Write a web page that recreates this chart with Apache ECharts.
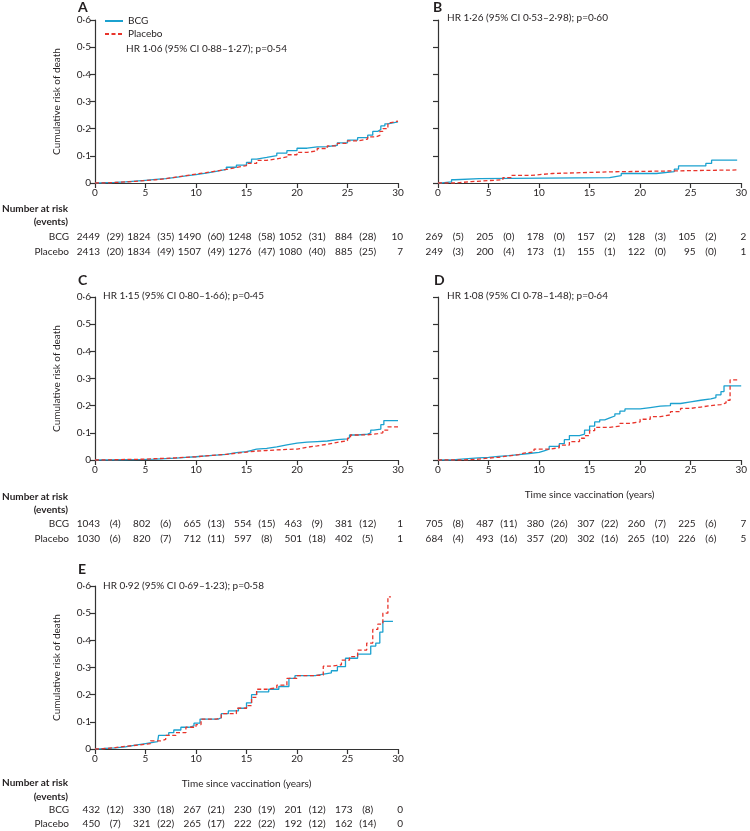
<!DOCTYPE html>
<html>
<head>
<meta charset="utf-8">
<script src="https://cdn.jsdelivr.net/npm/echarts@6/dist/echarts.min.js"></script>
<style>
html,body{margin:0;padding:0;background:#fff;}
#chart{width:750px;height:831px;}
</style>
</head>
<body>
<div id="chart"></div>
<script>
// ---- Data ----
const panelLetters = ['A','B','C','D','E'];
const hrTexts = [
  'HR 1·06 (95% CI 0·88–1·27); p=0·54',
  'HR 1·26 (95% CI 0·53–2·98); p=0·60',
  'HR 1·15 (95% CI 0·80–1·66); p=0·45',
  'HR 1·08 (95% CI 0·78–1·48); p=0·64',
  'HR 0·92 (95% CI 0·69–1·23); p=0·58'
];
const xTicks = [0,5,10,15,20,25,30];

const aBCG = [[0,0],[0.5,0.001],[1,0.002],[2,0.004],[3,0.007],[4,0.01],[5,0.013],[6,0.016],[7,0.021],[8,0.026],[9,0.031],[10,0.036],[11,0.043],[12,0.05],[13,0.058],[14,0.066],[15,0.076],[15.5,0.088],[16,0.094],[17,0.101],[18,0.11],[19,0.119],[20,0.128],[21,0.133],[22,0.134],[23,0.139],[24,0.148],[25,0.158],[26,0.167],[27,0.176],[27.5,0.19],[28,0.197],[28.3,0.21],[28.7,0.218],[29,0.225],[30,0.225]];
const aPlacebo = [[0,0],[1,0.002],[2,0.004],[3,0.006],[4,0.009],[5,0.012],[6,0.016],[7,0.022],[8,0.027],[9,0.033],[10,0.038],[11,0.044],[12,0.05],[13,0.057],[14,0.064],[15,0.072],[16,0.083],[17,0.089],[18,0.096],[19,0.104],[20,0.113],[21,0.118],[22,0.127],[23,0.137],[24,0.146],[25,0.155],[26,0.162],[27,0.17],[27.8,0.175],[28.2,0.19],[28.5,0.2],[29,0.222],[29.3,0.228],[30,0.228]];
const bBCG = [[0,0],[0.36,0.004],[1.34,0.012],[1.67,0.016],[4.07,0.02],[16.98,0.027],[18.13,0.035],[21.6,0.042],[23.38,0.051],[23.8,0.063],[26.5,0.072],[27.07,0.084],[29.6,0.084]];
const bPlacebo = [[0,0],[1.67,0.005],[3.3,0.012],[6.42,0.02],[7.24,0.028],[9.2,0.035],[11.34,0.041],[16.98,0.048],[29.6,0.048]];
const cBCG = [[0,0],[1,0.001],[3,0.002],[5,0.003],[6,0.005],[7,0.007],[8,0.01],[9,0.012],[10,0.015],[11,0.018],[12,0.021],[13,0.027],[14,0.031],[15,0.035],[15.5,0.04],[16,0.043],[17,0.048],[18,0.052],[18.5,0.056],[19,0.062],[20,0.066],[21,0.068],[22,0.07],[23,0.075],[24,0.078],[25,0.082],[25.2,0.092],[26,0.095],[27,0.1],[27.3,0.11],[27.6,0.114],[28.3,0.13],[28.6,0.145],[30,0.145]];
const cPlacebo = [[0,0],[1,0.001],[2,0.002],[3,0.003],[5,0.005],[6,0.006],[7,0.008],[8,0.01],[9,0.012],[10,0.015],[11,0.018],[12,0.021],[13,0.025],[14,0.029],[15,0.033],[16,0.035],[17,0.037],[18,0.039],[19,0.04],[20,0.047],[21,0.052],[22,0.058],[23,0.065],[24,0.071],[25,0.08],[25.3,0.092],[26,0.093],[27,0.097],[28,0.1],[28.5,0.11],[29,0.122],[30,0.122]];
const dBCG = [[0,0],[1.5,0.002],[2,0.005],[3,0.008],[4,0.01],[5,0.013],[6,0.016],[7,0.02],[8,0.024],[9,0.028],[10,0.034],[10.5,0.04],[11,0.05],[12,0.06],[12.5,0.075],[13,0.09],[14,0.095],[14.5,0.11],[15,0.125],[15.5,0.14],[16,0.148],[16.5,0.155],[17,0.162],[17.5,0.17],[18,0.18],[18.5,0.188],[20,0.193],[21,0.198],[22,0.2],[23,0.208],[24,0.214],[25,0.22],[26,0.225],[27,0.23],[27.5,0.24],[28,0.252],[28.3,0.273],[30,0.273]];
const dPlacebo = [[0,0],[2.5,0.003],[4,0.007],[5,0.01],[6,0.015],[7,0.02],[8,0.025],[8.5,0.03],[9.5,0.04],[11,0.045],[12,0.055],[13,0.068],[14,0.08],[14.5,0.09],[15,0.108],[15.5,0.12],[17,0.125],[18,0.135],[19,0.14],[20,0.15],[21,0.16],[22,0.166],[23,0.178],[24,0.19],[25,0.195],[26,0.2],[27,0.204],[28,0.21],[28.5,0.22],[28.9,0.295],[29.8,0.295]];
const eBCG = [[0,0],[0.5,0.002],[1,0.004],[2,0.008],[3,0.014],[4,0.02],[5,0.027],[6.2,0.033],[6.3,0.05],[7.3,0.06],[7.8,0.07],[8.5,0.08],[9.3,0.085],[9.8,0.095],[10.4,0.11],[12.2,0.115],[12.5,0.13],[13.2,0.14],[14.2,0.15],[15,0.17],[15.5,0.2],[16,0.21],[17.2,0.22],[18.2,0.23],[19.2,0.26],[19.8,0.27],[21.8,0.275],[22.5,0.28],[23.4,0.288],[24,0.303],[24.8,0.334],[26,0.349],[27.3,0.379],[27.8,0.39],[28.2,0.43],[28.5,0.47],[29.5,0.47]];
const ePlacebo = [[0,0],[0.5,0.005],[2,0.01],[3,0.015],[4.5,0.02],[5.5,0.03],[6.5,0.035],[7,0.05],[8,0.06],[9,0.08],[10,0.09],[10.5,0.11],[12,0.115],[12.5,0.13],[14,0.15],[15,0.16],[15.5,0.19],[16,0.22],[17,0.225],[18,0.235],[19,0.26],[20,0.27],[21.5,0.272],[22.6,0.305],[23.4,0.31],[24.4,0.327],[25.2,0.34],[26,0.364],[26.9,0.39],[27.5,0.44],[28,0.46],[28.5,0.5],[29,0.56],[29.3,0.56]];

const aRiskBCG = [2449,1824,1490,1248,1052,884,10];
const aEventsBCG = [29,35,60,58,31,28];
const aRiskPlacebo = [2413,1834,1507,1276,1080,885,7];
const aEventsPlacebo = [20,49,49,47,40,25];
const bRiskBCG = [269,205,178,157,128,105,2];
const bEventsBCG = [5,0,0,2,3,2];
const bRiskPlacebo = [249,200,173,155,122,95,1];
const bEventsPlacebo = [3,4,1,1,0,0];
const cRiskBCG = [1043,802,665,554,463,381,1];
const cEventsBCG = [4,6,13,15,9,12];
const cRiskPlacebo = [1030,820,712,597,501,402,1];
const cEventsPlacebo = [6,7,11,8,18,5];
const dRiskBCG = [705,487,380,307,260,225,7];
const dEventsBCG = [8,11,26,22,7,6];
const dRiskPlacebo = [684,493,357,302,265,226,5];
const dEventsPlacebo = [4,16,20,16,10,6];
const eRiskBCG = [432,330,267,230,201,173,0];
const eEventsBCG = [12,18,21,19,12,8];
const eRiskPlacebo = [450,321,265,222,192,162,0];
const eEventsPlacebo = [7,22,17,22,12,14];

// ---- Layout ----
const FONT = 'Lato, "Open Sans", sans-serif';
const TXT = '#231f20';
const BLUE = '#1ba1cf';
const RED = '#e8342b';
const grids = [
  {left:95, top:20, width:303, height:163},
  {left:438, top:20, width:305, height:163},
  {left:95, top:297, width:303, height:163},
  {left:438, top:297, width:305, height:163},
  {left:95, top:586, width:303, height:163}
];
const showYLabels = [true,false,true,false,true];
const showXName = [false,false,false,true,true];
const letterPos = [[78,0],[433,0],[78,273],[434,273],[78,562]];
const hrPos = [[126,44],[447,13],[103,291],[447,291],[103,581]];
const curves = [[aBCG,aPlacebo],[bBCG,bPlacebo],[cBCG,cPlacebo],[dBCG,dPlacebo],[eBCG,ePlacebo]];
const tables = [
  [aRiskBCG,aEventsBCG,aRiskPlacebo,aEventsPlacebo],
  [bRiskBCG,bEventsBCG,bRiskPlacebo,bEventsPlacebo],
  [cRiskBCG,cEventsBCG,cRiskPlacebo,cEventsPlacebo],
  [dRiskBCG,dEventsBCG,dRiskPlacebo,dEventsPlacebo],
  [eRiskBCG,eEventsBCG,eRiskPlacebo,eEventsPlacebo]
];
// row y offsets below the x axis: [number at risk, (events), BCG, Placebo]
const rowOffsets = [[26,39,54,69],[26,39,54,69],[37,50,64,79],[37,50,64,79],[34,48,61,75]];

const fmt = v => v === 0 ? '0' : v.toFixed(1).replace('.', '·');

const chart = echarts.init(document.getElementById('chart'), null, {renderer:'canvas'});

const xAxes = [], yAxes = [], series = [], titles = [];
grids.forEach((g,i) => {
  xAxes.push({
    type:'value', gridIndex:i, min:0, max:30, interval:5,
    axisLine:{show:true, lineStyle:{color:'#333', width:1.2}},
    axisTick:{show:true, length:5, lineStyle:{color:'#333', width:1.2}},
    axisLabel:{color:TXT, fontFamily:FONT, fontSize:10, margin:5},
    splitLine:{show:false},
    name: showXName[i] ? 'Time since vaccination (years)' : '',
    nameLocation:'middle', nameGap:30,
    nameTextStyle:{color:TXT, fontFamily:FONT, fontSize:10}
  });
  yAxes.push({
    type:'value', gridIndex:i, min:0, max:0.6, interval:0.1,
    axisLine:{show:true, lineStyle:{color:'#333', width:1.2}},
    axisTick:{show:true, length:5, lineStyle:{color:'#333', width:1.2}},
    axisLabel:{show:showYLabels[i], color:TXT, fontFamily:FONT, fontSize:10, margin:4, formatter:fmt},
    splitLine:{show:false},
    name: showYLabels[i] ? 'Cumulative risk of death' : '',
    nameLocation:'middle', nameGap:33, nameRotate:90,
    nameTextStyle:{color:TXT, fontFamily:FONT, fontSize:10}
  });
  series.push({
    type:'line', name:'BCG', xAxisIndex:i, yAxisIndex:i, step:'end',
    data: curves[i][0], symbol:'none', z:3,
    lineStyle:{color:BLUE, width:1.3}, itemStyle:{color:BLUE}
  });
  series.push({
    type:'line', name:'Placebo', xAxisIndex:i, yAxisIndex:i, step:'end',
    data: curves[i][1], symbol:'none', z:4,
    lineStyle:{color:RED, width:1.3, type:[4,2.5]}, itemStyle:{color:RED}
  });
  titles.push({text:panelLetters[i], left:letterPos[i][0], top:letterPos[i][1], padding:0,
    textStyle:{fontFamily:FONT, fontSize:14, fontWeight:'bold', color:TXT}});
  titles.push({text:hrTexts[i], left:hrPos[i][0], top:hrPos[i][1], padding:0,
    textStyle:{fontFamily:FONT, fontSize:10, fontWeight:'normal', color:TXT}});
});

chart.setOption({
  animation:false,
  backgroundColor:'#fff',
  title: titles,
  legend:{
    data:['BCG','Placebo'], orient:'vertical', left:104, top:16,
    itemWidth:18, itemHeight:10, itemGap:3, padding:0,
    itemStyle:{opacity:0, borderWidth:0},
    textStyle:{fontFamily:FONT, fontSize:10, color:TXT}
  },
  grid: grids.map(g => Object.assign({containLabel:false}, g)),
  xAxis: xAxes,
  yAxis: yAxes,
  series: series
});

// ---- Number-at-risk tables, positioned from the x scale ----
const graphics = [];
const txt = (x,y,t,align,bold) => ({
  type:'text', silent:true,
  style:{x:x, y:y, text:t, textAlign:align, textVerticalAlign:'middle',
    font:(bold?'bold ':'') + '10px ' + FONT, fill:TXT}
});
grids.forEach((g,i) => {
  const baseY = g.top + g.height;
  const off = rowOffsets[i];
  if (showYLabels[i]) {
    graphics.push(txt(68, baseY+off[0], 'Number at risk', 'right', true));
    graphics.push(txt(68, baseY+off[1], '(events)', 'right', true));
    graphics.push(txt(69, baseY+off[2], 'BCG', 'right', false));
    graphics.push(txt(69, baseY+off[3], 'Placebo', 'right', false));
  }
  const t = tables[i];
  [[t[0],t[1],off[2]],[t[2],t[3],off[3]]].forEach(([risk,ev,dy]) => {
    xTicks.forEach((tick,k) => {
      const px = chart.convertToPixel({xAxisIndex:i}, tick);
      graphics.push(txt(px+5, baseY+dy, String(risk[k]), 'right', false));
      if (k < ev.length) {
        const px2 = chart.convertToPixel({xAxisIndex:i}, tick + 2);
        graphics.push(txt(px2, baseY+dy, '(' + ev[k] + ')', 'center', false));
      }
    });
  });
});
chart.setOption({graphic: graphics});
</script>
</body>
</html>
